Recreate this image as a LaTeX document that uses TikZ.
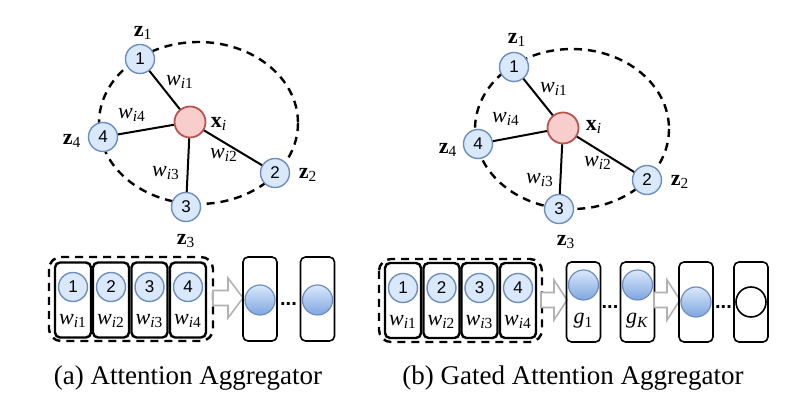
\documentclass[tikz,border=0pt]{standalone}
\usepackage{fontspec}
\setmainfont{Liberation Serif}
\setsansfont{Liberation Sans}
\usetikzlibrary{calc}
\definecolor{nfill}{HTML}{DAE8FC}
\definecolor{nline}{HTML}{6C8EBF}
\definecolor{rfill}{HTML}{F8CECC}
\definecolor{rline}{HTML}{B85450}
\definecolor{gdark}{HTML}{7EA6E0}
\newcommand\wlab[1]{\textit{w}\textsubscript{\textit{i}#1}}
\newcommand\zlab[1]{\textbf{z}\textsubscript{#1}}
\tikzset{
  nb/.style={circle, draw=nline, fill=nfill, line width=0.7pt, minimum size=14.5pt, inner sep=0pt, font=\sffamily\fontsize{8.5}{9}\selectfont},
  ctr/.style={circle, draw=rline, fill=rfill, line width=0.9pt, minimum size=15.5pt, inner sep=0pt},
  edg/.style={line width=1pt},
  dsh/.style={line width=1.2pt, dash pattern=on 4pt off 3pt},
  lab/.style={font=\fontsize{11}{12}\selectfont, inner sep=0pt},
  captext/.style={font=\fontsize{13.5}{15}\selectfont, inner sep=0pt},
  wbox/.style={draw, rounded corners=2.5pt, line width=1.2pt, minimum width=18pt, minimum height=37.5pt, inner sep=0pt},
  obox/.style={draw, rounded corners=2.5pt, line width=0.8pt, minimum width=17pt, minimum height=42pt, inner sep=0pt},
  gc/.style={circle, draw=nline, line width=0.6pt, top color=nfill, bottom color=gdark, minimum size=15pt, inner sep=0pt},
  wc/.style={circle, draw, line width=0.8pt, fill=white, minimum size=15pt, inner sep=0pt},
  harrow/.style={draw=black!30, fill=white, line width=0.8pt, line join=miter},
  dots/.style={inner sep=0pt, font=\sffamily\bfseries\fontsize{10}{10}\selectfont}
}
\begin{document}
\begin{tikzpicture}[x=0.5pt, y=-0.5pt]
\useasboundingbox (0,0) rectangle (800,416);

% ---------- (a) graph ----------
\draw[dsh] (198.5,123) ellipse [x radius=99.5, y radius=81];
\node[ctr] (ax) at (190,122) {};
\node[nb] (a1) at (140,59) {1};
\node[nb] (a2) at (275,173) {2};
\node[nb] (a3) at (186,207) {3};
\node[nb] (a4) at (103,137) {4};
\draw[edg] (ax) -- (a1);
\draw[edg] (ax) -- (a2);
\draw[edg] (ax) -- (a3);
\draw[edg] (ax) -- (a4);
\node[lab] (az1) at (143,33) {\zlab{1}};
\node[lab] (az2) at (308,175) {\zlab{2}};
\node[lab] (az3) at (186,241) {\zlab{3}};
\node[lab] (az4) at (72,141) {\zlab{4}};
\node[lab] (axl) at (219,124) {\textbf{x}\textsubscript{\textit{i}}};
\node[lab] (aw1) at (180,82) {\wlab{1}};
\node[lab] (aw2) at (224,155) {\wlab{2}};
\node[lab] (aw3) at (166,173) {\wlab{3}};
\node[lab] (aw4) at (132,115) {\wlab{4}};

% ---------- (b) graph ----------
\draw[dsh] (572,129) ellipse [x radius=97, y radius=80];
\node[ctr] (bx) at (563,128) {};
\node[nb] (b1) at (514,67) {1};
\node[nb] (b2) at (647,180) {2};
\node[nb] (b3) at (559,209) {3};
\node[nb] (b4) at (478,144) {4};
\draw[edg] (bx) -- (b1);
\draw[edg] (bx) -- (b2);
\draw[edg] (bx) -- (b3);
\draw[edg] (bx) -- (b4);
\node[lab] (bz1) at (517,40) {\zlab{1}};
\node[lab] (bz2) at (680,182) {\zlab{2}};
\node[lab] (bz3) at (566,242) {\zlab{3}};
\node[lab] (bz4) at (448,150) {\zlab{4}};
\node[lab] (bxl) at (594,127) {\textbf{x}\textsubscript{\textit{i}}};
\node[lab] (bw1) at (554,89) {\wlab{1}};
\node[lab] (bw2) at (598,163) {\wlab{2}};
\node[lab] (bw3) at (540,180) {\wlab{3}};
\node[lab] (bw4) at (506,119) {\wlab{4}};

% ---------- (a) bottom row ----------
\draw[dsh, rounded corners=6pt] (49,257) rectangle (213,341);
\foreach \i/\x in {1/73,2/111,3/149.5,4/188}{
  \node[wbox] (ab\i) at (\x,300) {};
  \node[nb] (abc\i) at (\x,287) {\i};
  \node[lab] (abw\i) at (\x,321) {\wlab{\i}};
}
\coordinate (aa0) at (213,298);
\draw[harrow] (aa0) ++(0,-7.5) -- ++(15,0) -- ++(0,-12.5) -- ++(15,20) -- ++(-15,20) -- ++(0,-12.5) -- ++(-15,0) -- cycle;
\node[obox] (aoA) at (260,299) {};
\node[gc] (aoAc) at (260,300) {};
\node[dots] (ad1) at (288.5,304) {...};
\node[obox] (aoB) at (317.5,299) {};
\node[gc] (aoBc) at (317.5,300) {};

% ---------- (b) bottom row ----------
\draw[dsh, rounded corners=6pt] (379,259) rectangle (542,342);
\foreach \i/\x in {1/403,2/441.5,3/479.5,4/518}{
  \node[wbox] (bb\i) at (\x,300.5) {};
  \node[nb] (bbc\i) at (\x,288) {\i};
  \node[lab] (bbw\i) at (\x,322) {\wlab{\i}};
}
\coordinate (ba0) at (541,300);
\draw[harrow] (ba0) ++(0,-7.5) -- ++(13,0) -- ++(0,-12.5) -- ++(13,20) -- ++(-13,20) -- ++(0,-12.5) -- ++(-13,0) -- cycle;
\node[obox, minimum height=40pt] (bg1) at (583.5,302) {};
\node[gc] (bg1c) at (583.5,285) {};
\node[lab] (bg1l) at (583.5,321) {\textit{g}\textsubscript{1}};
\node[dots] (bd1) at (610,307) {...};
\node[obox, minimum height=40pt] (bgK) at (637.5,302) {};
\node[gc] (bgKc) at (637.5,285) {};
\node[lab] (bgKl) at (637.5,321) {\textit{g}\textsubscript{\textit{K}}};
\coordinate (ba1) at (654,300);
\draw[harrow] (ba1) ++(0,-7.5) -- ++(13,0) -- ++(0,-12.5) -- ++(13,20) -- ++(-13,20) -- ++(0,-12.5) -- ++(-13,0) -- cycle;
\node[obox, minimum height=40pt] (bC) at (696,302) {};
\node[gc] (bCc) at (696,302) {};
\node[dots] (bd2) at (723.5,307) {...};
\node[obox, minimum height=40pt] (bD) at (751,302) {};
\node[wc] (bDc) at (751,302) {};

% ---------- captions ----------
\node[captext] (capa) at (188,378) {(a) Attention Aggregator};
\node[captext] (capb) at (573,378) {(b) Gated Attention Aggregator};
\end{tikzpicture}
\end{document}
